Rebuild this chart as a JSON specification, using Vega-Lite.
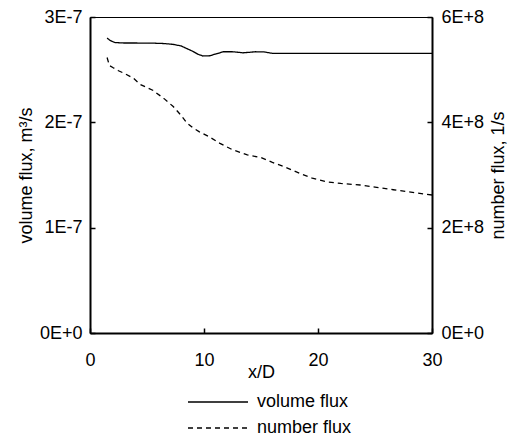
{
  "$schema": "https://vega.github.io/schema/vega-lite/v6.json",
  "width": 342,
  "height": 316,
  "autosize": {"type": "none"},
  "padding": {"left": 90, "top": 17, "right": 87, "bottom": 107},
  "background": "white",
  "config": {
    "font": "Liberation Sans",
    "view": {"stroke": "black", "strokeWidth": 1},
    "axis": {
      "grid": false,
      "domainColor": "black",
      "domainWidth": 2,
      "tickColor": "black",
      "tickWidth": 1.5,
      "tickSize": -5,
      "labelColor": "black",
      "labelFontSize": 18,
      "titleColor": "black",
      "titleFontSize": 18,
      "titleFontWeight": "normal",
      "labelFont": "Liberation Sans",
      "titleFont": "Liberation Sans"
    },
    "legend": {
      "labelFont": "Liberation Sans",
      "labelFontSize": 18,
      "labelColor": "black"
    },
    "line": {"color": "black"}
  },
  "data": {
    "values": [
      {"x": 1.5, "series": "volume flux", "flux": 2.80e-7},
      {"x": 1.8, "series": "volume flux", "flux": 2.775e-7},
      {"x": 2.2, "series": "volume flux", "flux": 2.757e-7},
      {"x": 3, "series": "volume flux", "flux": 2.753e-7},
      {"x": 4, "series": "volume flux", "flux": 2.753e-7},
      {"x": 5.5, "series": "volume flux", "flux": 2.752e-7},
      {"x": 6.5, "series": "volume flux", "flux": 2.748e-7},
      {"x": 7.3, "series": "volume flux", "flux": 2.74e-7},
      {"x": 8, "series": "volume flux", "flux": 2.725e-7},
      {"x": 8.5, "series": "volume flux", "flux": 2.70e-7},
      {"x": 9, "series": "volume flux", "flux": 2.675e-7},
      {"x": 9.5, "series": "volume flux", "flux": 2.645e-7},
      {"x": 9.9, "series": "volume flux", "flux": 2.63e-7},
      {"x": 10.5, "series": "volume flux", "flux": 2.632e-7},
      {"x": 11, "series": "volume flux", "flux": 2.648e-7},
      {"x": 11.7, "series": "volume flux", "flux": 2.67e-7},
      {"x": 12.5, "series": "volume flux", "flux": 2.67e-7},
      {"x": 13, "series": "volume flux", "flux": 2.665e-7},
      {"x": 13.4, "series": "volume flux", "flux": 2.66e-7},
      {"x": 14, "series": "volume flux", "flux": 2.665e-7},
      {"x": 14.5, "series": "volume flux", "flux": 2.67e-7},
      {"x": 15.3, "series": "volume flux", "flux": 2.668e-7},
      {"x": 16, "series": "volume flux", "flux": 2.655e-7},
      {"x": 20, "series": "volume flux", "flux": 2.655e-7},
      {"x": 25, "series": "volume flux", "flux": 2.655e-7},
      {"x": 30, "series": "volume flux", "flux": 2.655e-7},
      {"x": 1.5, "series": "number flux", "flux": 5.23e8},
      {"x": 1.7, "series": "number flux", "flux": 5.08e8},
      {"x": 2, "series": "number flux", "flux": 5.04e8},
      {"x": 2.5, "series": "number flux", "flux": 4.98e8},
      {"x": 3, "series": "number flux", "flux": 4.93e8},
      {"x": 3.8, "series": "number flux", "flux": 4.84e8},
      {"x": 4.4, "series": "number flux", "flux": 4.72e8},
      {"x": 5.5, "series": "number flux", "flux": 4.61e8},
      {"x": 6.5, "series": "number flux", "flux": 4.45e8},
      {"x": 7.3, "series": "number flux", "flux": 4.30e8},
      {"x": 8, "series": "number flux", "flux": 4.13e8},
      {"x": 8.5, "series": "number flux", "flux": 3.99e8},
      {"x": 9, "series": "number flux", "flux": 3.90e8},
      {"x": 9.6, "series": "number flux", "flux": 3.82e8},
      {"x": 10.5, "series": "number flux", "flux": 3.72e8},
      {"x": 11.4, "series": "number flux", "flux": 3.60e8},
      {"x": 12.5, "series": "number flux", "flux": 3.48e8},
      {"x": 13.8, "series": "number flux", "flux": 3.38e8},
      {"x": 15, "series": "number flux", "flux": 3.33e8},
      {"x": 16, "series": "number flux", "flux": 3.24e8},
      {"x": 17, "series": "number flux", "flux": 3.16e8},
      {"x": 18.4, "series": "number flux", "flux": 3.03e8},
      {"x": 19.5, "series": "number flux", "flux": 2.94e8},
      {"x": 20.8, "series": "number flux", "flux": 2.87e8},
      {"x": 22, "series": "number flux", "flux": 2.84e8},
      {"x": 23.7, "series": "number flux", "flux": 2.81e8},
      {"x": 25, "series": "number flux", "flux": 2.77e8},
      {"x": 26.6, "series": "number flux", "flux": 2.72e8},
      {"x": 28, "series": "number flux", "flux": 2.68e8},
      {"x": 30, "series": "number flux", "flux": 2.62e8}
    ]
  },
  "encoding": {
    "x": {
      "field": "x",
      "type": "quantitative",
      "scale": {"domain": [0, 30], "nice": false, "zero": false},
      "axis": {"title": "x/D", "values": [0, 10, 20, 30], "labelPadding": 23, "titlePadding": -6, "labelFlush": false}
    },
    "strokeDash": {
      "field": "series",
      "type": "nominal",
      "scale": {"domain": ["volume flux", "number flux"], "range": [[1, 0], [5, 4]]},
      "legend": {
        "title": null,
        "orient": "none",
        "legendX": 97,
        "legendY": 376,
        "symbolType": "stroke",
        "symbolSize": 3600,
        "clipHeight": 18,
        "symbolStrokeColor": "black",
        "symbolStrokeWidth": 1.3,
        "labelOffset": 8,
        "rowPadding": 8,
        "padding": 0
      }
    }
  },
  "layer": [
    {
      "transform": [{"filter": "datum.series === 'volume flux'"}],
      "mark": {"type": "line", "strokeWidth": 1.3, "color": "black"},
      "encoding": {
        "y": {
          "field": "flux",
          "type": "quantitative",
          "scale": {"domain": [0, 3e-7], "nice": false},
          "axis": {
            "orient": "left",
            "title": "volume flux, m³/s",
            "values": [0, 1e-7, 2e-7, 3e-7],
            "format": ".0e",
            "labelExpr": "upper(datum.label)",
            "labelPadding": 13,
            "titlePadding": 4
          }
        }
      }
    },
    {
      "transform": [{"filter": "datum.series === 'number flux'"}],
      "mark": {"type": "line", "strokeWidth": 1.3, "color": "black"},
      "encoding": {
        "y": {
          "field": "flux",
          "type": "quantitative",
          "scale": {"domain": [0, 6e8], "nice": false},
          "axis": {
            "orient": "right",
            "title": "number flux, 1/s",
            "titleAngle": 270,
            "titleBaseline": "top",
            "values": [0, 2e8, 4e8, 6e8],
            "format": ".0e",
            "labelExpr": "upper(datum.label)",
            "labelPadding": 14,
            "titlePadding": 6
          }
        }
      }
    }
  ],
  "resolve": {"scale": {"y": "independent"}, "axis": {"y": "independent"}}
}
